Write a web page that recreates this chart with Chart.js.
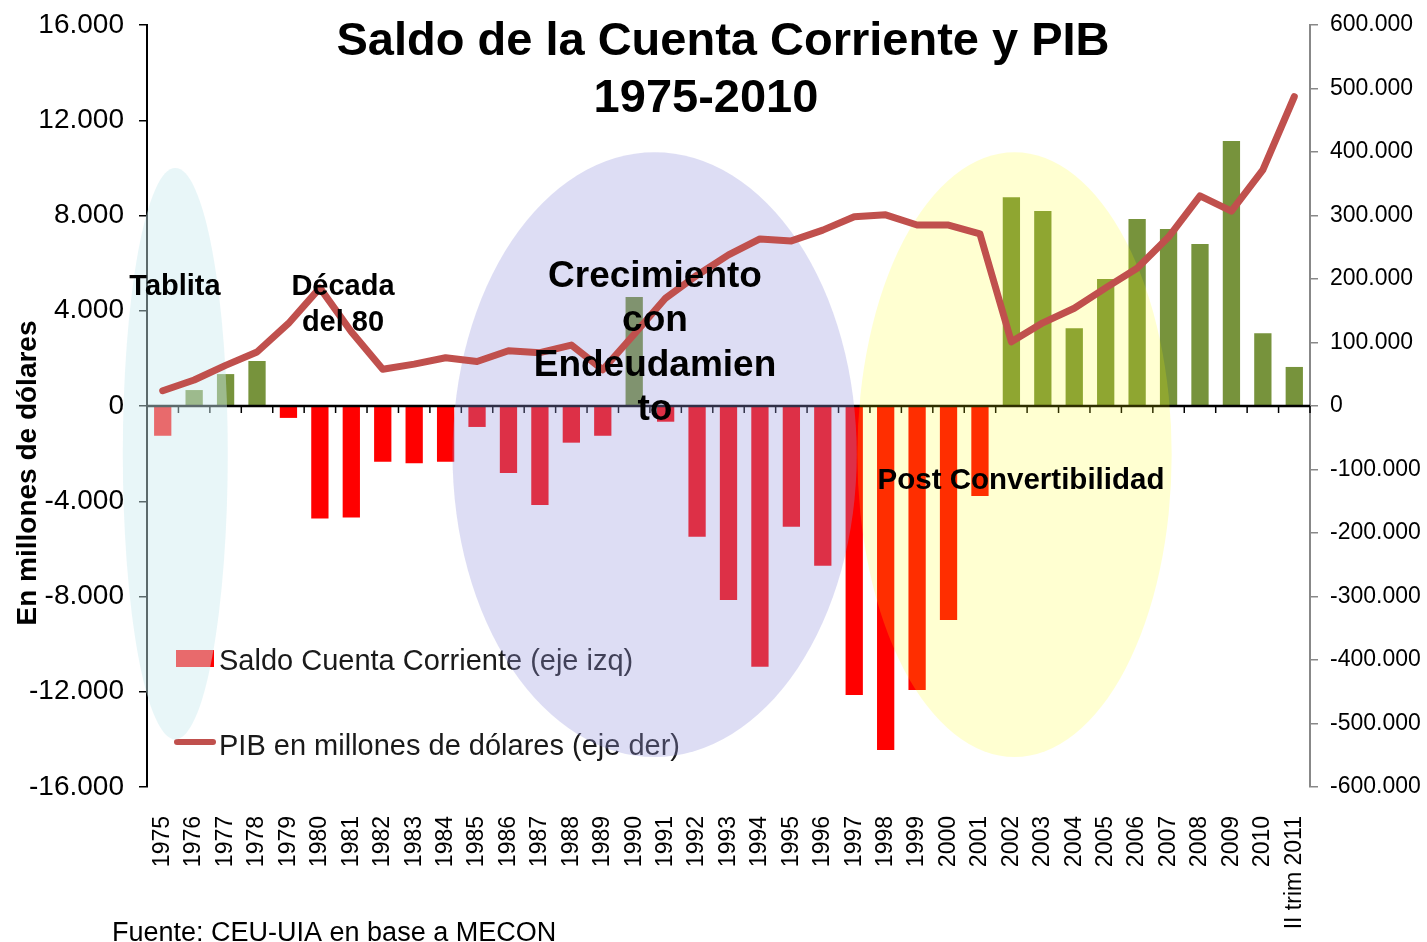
<!DOCTYPE html>
<html>
<head>
<meta charset="utf-8">
<title>Saldo de la Cuenta Corriente y PIB 1975-2010</title>
<script src="https://cdn.jsdelivr.net/npm/chart.js@4.4.0/dist/chart.umd.min.js"></script>
<style>
    html, body { margin: 0; padding: 0; background: #fff; }
    #wrap { width: 1427px; height: 942px; position: relative; }
</style>
</head>
<body>
<div id="wrap"><canvas id="chart" width="1427" height="942"></canvas></div>
<script>
// Categories (years)
const years = ['1975', '1976', '1977', '1978', '1979', '1980', '1981', '1982', '1983', '1984',
    '1985', '1986', '1987', '1988', '1989', '1990', '1991', '1992', '1993', '1994',
    '1995', '1996', '1997', '1998', '1999', '2000', '2001', '2002', '2003', '2004',
    '2005', '2006', '2007', '2008', '2009', '2010', 'II trim 2011'];

// Saldo de la cuenta corriente (millones de USD, eje izq)
const saldo = [-1250, 670, 1340, 1890, -500, -4720, -4680, -2340, -2400, -2340,
    -880, -2810, -4160, -1540, -1250, 4580, -660, -5490, -8150, -10950,
    -5070, -6710, -12140, -14450, -11930, -8990, -3780, 8770, 8190, 3260,
    5330, 7850, 7430, 6800, 11130, 3050, 1640];

// PIB (millones de USD, eje der)
const pib = [24000, 41000, 64000, 85000, 130000, 186000, 117000, 58000, 66000, 76000,
    70000, 87000, 84000, 96000, 57000, 113000, 170000, 206000, 238000, 263000,
    260000, 277000, 298000, 301000, 285000, 285000, 271000, 101000, 131000, 154000,
    186000, 217000, 266000, 331000, 307000, 372000, 487000];

// Axis ranges
const leftMin = -16000, leftMax = 16000, leftStep = 4000;
const rightMin = -600000, rightMax = 600000, rightStep = 100000;

const FONT = "'Liberation Sans', Arial, Helvetica, sans-serif";
const RED = '#FF0000';
const GREEN = '#77933C';
const LINE = '#C0504D';

// Shaded periods: centre in category index / left-axis value, radii in the same units
const periods = [
    { cx: 0.4, rx: 1.67, cy: -2000, ry: 12000, color: 'rgba(205,234,240,0.45)' },
    { cx: 15.65, rx: 6.43, cy: -2040, ry: 12700, color: 'rgba(150,150,220,0.32)' },
    { cx: 27.1, rx: 5.0, cy: -2040, ry: 12700, color: 'rgba(255,255,0,0.18)' }
];

function fmt(v) {
    const s = Math.abs(v).toString().replace(/\B(?=(\d{3})+(?!\d))/g, '.');
    return (v < 0 ? '-' : '') + s;
}

function drawLines(ctx, lines, x, y, lh) {
    lines.forEach((t, i) => ctx.fillText(t, x, y + i * lh));
}

const decorPlugin = {
    id: 'decor',
    beforeDatasetDraw(chart, args) {
        if (args.index !== 1) return;
        const ctx = chart.ctx;
        const xs = chart.scales.x, ys = chart.scales.y;
        const area = chart.chartArea;
        const y0 = ys.getPixelForValue(0);
        const step = xs.getPixelForValue(1) - xs.getPixelForValue(0);

        ctx.save();
        // zero axis with category ticks
        ctx.strokeStyle = '#000';
        ctx.lineWidth = 2.5;
        ctx.beginPath();
        ctx.moveTo(area.left, y0);
        ctx.lineTo(area.right, y0);
        ctx.stroke();
        ctx.lineWidth = 1.5;
        for (let i = 0; i <= years.length; i++) {
            const px = xs.getPixelForValue(i) - step / 2;
            ctx.beginPath();
            ctx.moveTo(px, y0);
            ctx.lineTo(px, y0 + 7);
            ctx.stroke();
        }

        // legend
        ctx.fillStyle = RED;
        ctx.fillRect(176, 650, 38, 17);
        ctx.strokeStyle = LINE;
        ctx.lineWidth = 6;
        ctx.lineCap = 'round';
        ctx.beginPath();
        ctx.moveTo(177, 742);
        ctx.lineTo(213, 742);
        ctx.stroke();
        ctx.fillStyle = '#1a1a1a';
        ctx.font = '29px ' + FONT;
        ctx.textAlign = 'left';
        ctx.textBaseline = 'alphabetic';
        ctx.fillText('Saldo Cuenta Corriente (eje izq)', 219, 670);
        ctx.fillText('PIB en millones de dólares (eje der)', 219, 755);

        // shaded periods
        periods.forEach(p => {
            const cx = xs.getPixelForValue(p.cx);
            const cy = ys.getPixelForValue(p.cy);
            const rx = p.rx * step;
            const ry = Math.abs(ys.getPixelForValue(p.ry) - ys.getPixelForValue(0));
            ctx.fillStyle = p.color;
            ctx.beginPath();
            ctx.ellipse(cx, cy, rx, ry, 0, 0, Math.PI * 2);
            ctx.fill();
        });
        ctx.restore();
    },
    afterDraw(chart) {
        const ctx = chart.ctx;
        ctx.save();
        ctx.fillStyle = '#000';
        ctx.textBaseline = 'alphabetic';

        // title
        ctx.textAlign = 'center';
        ctx.font = 'bold 47px ' + FONT;
        ctx.fillText('Saldo de la Cuenta Corriente y PIB', 723, 55);
        ctx.fillText('1975-2010', 706, 112);

        // period labels
        ctx.font = 'bold 29px ' + FONT;
        ctx.fillText('Tablita', 175, 295);
        drawLines(ctx, ['Década', 'del 80'], 343, 295, 36);
        ctx.font = 'bold 37px ' + FONT;
        drawLines(ctx, ['Crecimiento', 'con', 'Endeudamien', 'to'], 655, 287, 44.3);
        ctx.font = 'bold 29.5px ' + FONT;
        ctx.fillText('Post Convertibilidad', 1021, 489);

        // y axis title
        ctx.save();
        ctx.translate(36, 473);
        ctx.rotate(-Math.PI / 2);
        ctx.font = 'bold 28px ' + FONT;
        ctx.fillText('En millones de dólares', 0, 0);
        ctx.restore();

        // source
        ctx.textAlign = 'left';
        ctx.font = '27px ' + FONT;
        ctx.fillText('Fuente: CEU-UIA en base a MECON', 112, 941);
        ctx.restore();
    }
};

new Chart(document.getElementById('chart'), {
    type: 'bar',
    data: {
        labels: years,
        datasets: [{
            type: 'bar',
            label: 'Saldo Cuenta Corriente (eje izq)',
            data: saldo,
            yAxisID: 'y',
            backgroundColor: ctx => (ctx.raw < 0 ? RED : GREEN),
            borderWidth: 0,
            barPercentage: 0.55,
            categoryPercentage: 1.0,
            order: 1
        }, {
            type: 'line',
            label: 'PIB en millones de dólares (eje der)',
            data: pib,
            yAxisID: 'y1',
            borderColor: LINE,
            borderWidth: 7,
            borderCapStyle: 'round',
            borderJoinStyle: 'round',
            pointRadius: 0,
            tension: 0,
            fill: false,
            order: 0
        }]
    },
    options: {
        responsive: false,
        animation: false,
        layout: { padding: { top: 25, left: 0, right: 0, bottom: 0 } },
        plugins: {
            legend: { display: false },
            tooltip: { enabled: false },
            title: { display: false }
        },
        scales: {
            x: {
                grid: { display: false },
                border: { display: false },
                ticks: {
                    autoSkip: false,
                    maxRotation: 90,
                    minRotation: 90,
                    padding: 21,
                    color: '#000',
                    font: { family: FONT, size: 23 }
                },
                afterFit: s => { s.height = 155; }
            },
            y: {
                position: 'left',
                min: leftMin,
                max: leftMax,
                grid: { drawOnChartArea: false, color: '#000', lineWidth: 1.5, tickLength: 8 },
                border: { color: '#000', width: 2 },
                ticks: {
                    stepSize: leftStep,
                    padding: 15,
                    color: '#000',
                    font: { family: FONT, size: 28, lineHeight: 0.6 },
                    callback: v => fmt(v)
                },
                afterFit: s => { s.width = 147; }
            },
            y1: {
                position: 'right',
                min: rightMin,
                max: rightMax,
                grid: { drawOnChartArea: false, color: '#888', lineWidth: 1.5, tickLength: 8 },
                border: { color: '#888', width: 2 },
                ticks: {
                    stepSize: rightStep,
                    padding: 12,
                    color: '#000',
                    font: { family: FONT, size: 23, lineHeight: 0.6 },
                    callback: v => fmt(v)
                },
                afterFit: s => { s.width = 117; }
            }
        }
    },
    plugins: [decorPlugin]
});
</script>
</body>
</html>
